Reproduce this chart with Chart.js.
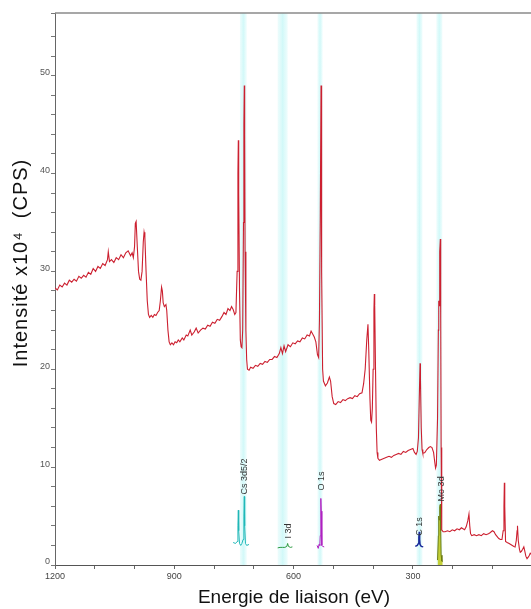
<!DOCTYPE html>
<html>
<head>
<meta charset="utf-8">
<script src="https://cdn.jsdelivr.net/npm/chart.js@4"></script>
<style>
html,body{margin:0;padding:0;background:#fff;}
#wrap{width:531px;height:609px;position:relative;}
</style>
</head>
<body>
<div id="wrap"><canvas id="c" width="531" height="609"></canvas></div>
<script>
// ---- Survey spectrum (red) ----
const energy = [1200,1194,1188,1182,1176,1170,1164,1158,1152,1146,1140,1134,1128,1122,1116,1110,1104,1098,1092,1086,1080,1074,1068,1066,1063,1058,1052,1046,1040,1034,1028,1022,1016,1010,1006,1003,1000,998,996,993,990,987,984,981,978,976,974,971,968,965,962,958,954,950,946,942,938,935,932,930,928,925,921,919,916,913,910,906,902,898,894,890,886,880,876,870,866,860,856,850,845,840,834,828,822,816,810,804,798,792,786,780,775,770,765,760,756,752,748,745,742,740,739,738,736,734,732,730,728,726,725,724,723,722,720,718,716,712,708,702,696,690,684,678,672,666,660,654,648,642,636,632,628,624,620,614,608,602,596,590,584,578,572,566,560,556,552,548,544,540,537,535,533,531,530,529,527,525,520,515,510,507,503,499,494,488,482,476,470,464,458,452,446,440,434,428,424,420,416,413,411,408,406,404,402,400,398,397,396,394,392,390,388,384,378,372,366,360,354,348,342,336,330,324,318,312,306,300,296,292,289,286,284,282,281,279,277,275,270,265,260,256,252,248,245,243,241,238,236,235,234,233,232,231,230,229,228,227,224,219,213,207,201,195,189,183,178,174,170,166,162,159,157,155,152,146,140,134,128,122,116,110,106,100,96,92,88,84,80,76,73,71,70,69,67,63,58,54,50,46,43,40,38,37,35,32,30,27,24,21,19,16,13,10,7,5,3];
const intensity = [28.3,28.1,28.6,28.4,28.8,28.6,29.1,28.9,29.2,29.0,29.5,29.3,29.6,29.4,29.9,29.7,30.3,30.0,30.5,30.3,30.8,30.6,31.2,32.0,31.0,31.2,30.9,31.4,31.2,31.7,31.4,31.9,32.1,31.6,31.9,31.4,32.5,34.9,35.1,32.5,30.0,29.2,29.1,30.0,33.0,34.0,33.5,30.0,27.0,25.6,25.3,25.5,25.3,25.6,25.5,25.8,26.0,27.0,28.4,28.0,26.8,26.4,26.6,26.0,24.0,22.8,22.5,22.7,22.5,22.8,22.7,23.0,22.8,23.2,23.0,23.5,23.4,24.0,23.5,23.8,24.2,23.7,24.0,24.2,24.1,24.5,24.4,24.8,24.7,25.1,25.0,25.4,25.8,25.6,26.2,26.0,26.4,26.1,25.6,25.8,30.0,40.0,43.4,38.0,28.0,23.0,22.3,22.2,24.0,35.0,45.0,49.0,44.0,32.0,24.0,21.0,20.0,19.9,20.2,20.1,20.4,20.3,20.6,20.5,20.8,20.7,21.0,21.0,21.3,21.2,21.6,22.2,21.6,22.4,21.8,22.5,22.3,22.7,22.6,22.9,22.8,23.2,23.1,23.5,23.4,23.9,23.6,23.3,22.8,21.5,21.2,25.0,35.0,49.0,47.0,30.0,20.0,18.8,18.3,18.6,19.2,18.8,17.2,16.5,16.4,16.7,16.6,16.9,16.8,17.0,17.1,17.0,17.3,17.2,17.5,17.6,18.5,20.0,23.0,24.6,22.0,17.0,14.8,14.6,16.0,20.0,26.0,27.7,26.5,20.0,14.0,11.5,10.9,10.7,10.8,10.9,11.0,11.1,11.0,11.2,11.3,11.4,11.3,11.6,11.5,11.7,11.8,11.9,11.5,11.3,11.6,13.0,17.0,20.6,19.0,14.0,11.8,11.4,11.5,11.8,12.0,12.1,12.0,11.5,10.5,9.9,10.2,15.0,24.0,27.0,26.5,28.0,32.0,33.3,25.0,12.0,6.0,3.6,3.4,3.4,3.5,3.4,3.6,3.5,3.7,3.6,3.8,3.7,3.6,3.9,4.5,5.2,4.0,3.2,3.0,3.1,3.0,3.1,3.0,3.2,3.1,3.2,3.3,3.5,3.4,3.1,2.9,2.7,2.6,2.6,3.5,6.0,8.4,6.0,2.4,2.3,2.2,2.1,2.0,1.9,1.85,2.5,3.5,4.0,2.5,1.6,1.3,1.4,1.6,1.85,1.5,0.9,0.65,0.8,1.0,1.2,1.1];

// ---- Fitted components ----
const csEnergy = [752,746,742,740,739,738,736,733,730,727,725,724,723,721,718,712];
const csIntensity = [2.3,2.2,2.4,4.0,5.6,3.5,2.2,2.0,2.2,2.6,5.0,7.0,4.0,2.2,2.0,2.1];
const iEnergy = [640,634,628,622,617,615,613,608,603];
const iIntensity = [1.75,1.8,1.8,1.8,1.9,2.2,1.9,1.8,1.85];
const oEnergy = [541,538,536,534,533,531.5,530.5,529,527,523];
const oIntensity = [2.0,1.7,2.1,2.0,3.0,6.8,5.5,2.0,1.9,1.85];
const cEnergy = [294,289,286,285,284,283,282,279,274];
const cIntensity = [1.9,2.0,2.2,2.8,3.4,2.6,2.1,1.9,1.85];
const moEnergy = [238,236,235,234,233,232,231,230,229,227,225];
const moIntensity = [0.5,3.0,5.0,4.6,5.2,6.0,6.2,3.5,1.0,0.4,0.3];

// ---- Component labels and highlight bands ----
const componentLabels = ['Cs 3d5/2','I 3d','O 1s','C 1s','Mo 3d'];
const labelEnergy = [724, 613, 530, 284, 228];
const labelBase = [7.2, 2.7, 7.6, 3.0, 6.5];
const bandCenter = [726.5, 627.5, 533.5, 283.5, 233.5];
const bandWidth = [17, 25, 13, 15, 15];

// ---- Axis ticks ----
const xTickValues = [1200, 1100, 1000, 900, 800, 700, 600, 500, 400, 300, 200, 100];
const xMajorTicks = [1200, 900, 600, 300];
const yMajorTicks = [0, 10, 20, 30, 40, 50];

function pts(xs, ys){ return xs.map((x,i)=>({x:x, y:ys[i]})); }

const bandsPlugin = {
  id:'bands',
  beforeDatasetsDraw(chart){
    const {ctx, chartArea:a, scales:{x}} = chart;
    ctx.save();
    bandCenter.forEach((c,i)=>{
      const p1 = x.getPixelForValue(c + bandWidth[i]/2);
      const p2 = x.getPixelForValue(c - bandWidth[i]/2);
      const l = Math.min(p1,p2), w = Math.abs(p2-p1);
      const g = ctx.createLinearGradient(l,0,l+w,0);
      g.addColorStop(0,'rgba(220,250,250,0.5)');
      g.addColorStop(0.5,'rgba(205,248,248,0.9)');
      g.addColorStop(1,'rgba(220,250,250,0.5)');
      ctx.fillStyle = g;
      ctx.fillRect(l, a.top, w, a.bottom - a.top);
    });
    ctx.restore();
  }
};

const decorPlugin = {
  id:'decor',
  afterDatasetsDraw(chart){
    const {ctx, scales:{x,y}} = chart;
    ctx.save();
    ctx.font = '9px "Liberation Sans", Arial, sans-serif';
    ctx.fillStyle = '#333';
    ctx.textAlign = 'left';
    ctx.textBaseline = 'middle';
    componentLabels.forEach((t,i)=>{
      const px = x.getPixelForValue(labelEnergy[i]);
      const py = y.getPixelForValue(labelBase[i]);
      ctx.save();
      ctx.translate(px, py);
      ctx.rotate(-Math.PI/2);
      ctx.fillText(t, 0, 0);
      ctx.restore();
    });
    ctx.restore();
  },
  afterDraw(chart){
    const {ctx, chartArea:a} = chart;
    ctx.save();
    ctx.strokeStyle = '#8a8a8a';
    ctx.lineWidth = 1.5;
    ctx.beginPath();
    ctx.moveTo(a.left, a.top);
    ctx.lineTo(a.right, a.top);
    ctx.stroke();
    ctx.fillStyle = '#111';
    ctx.font = '19px "Liberation Sans", Arial, sans-serif';
    ctx.textAlign = 'center';
    ctx.textBaseline = 'middle';
    ctx.fillText('Energie de liaison (eV)', (a.left + a.right)/2 + 1, 598);
    ctx.font = '20px "Liberation Sans", Arial, sans-serif';
    try { ctx.letterSpacing = '1px'; } catch(e) {}
    ctx.translate(21, 263);
    ctx.rotate(-Math.PI/2);
    ctx.fillText('Intensité x10⁴  (CPS)', 0, 0);
    ctx.restore();
  }
};

const lineDs = (data, color, extra) => Object.assign({
  data: data, borderColor: color, borderWidth: 1, pointRadius: 0,
  tension: 0, fill: false
}, extra || {});

new Chart(document.getElementById('c'), {
  type: 'line',
  data: {
    datasets: [
      lineDs(pts(energy, intensity), '#cc2030', {borderWidth: 1.1}),
      lineDs(pts(csEnergy, csIntensity), '#20b8b8'),
      lineDs(pts(iEnergy, iIntensity), '#2a9a40'),
      lineDs(pts(oEnergy, oIntensity), '#b020c0'),
      lineDs(pts(cEnergy, cIntensity), '#1a2a9a', {borderWidth: 1.5}),
      lineDs(pts(moEnergy, moIntensity), '#6b7a10', {fill: 'origin', backgroundColor: 'rgba(190,200,20,0.85)'})
    ]
  },
  options: {
    responsive: false,
    animation: false,
    devicePixelRatio: 1,
    layout: { padding: { top: 13, right: 0, left: 0, bottom: 0 } },
    plugins: { legend: { display: false }, tooltip: { enabled: false } },
    scales: {
      x: {
        type: 'linear', reverse: true, min: 3, max: 1200,
        afterFit: s => { s.height = 44; },
        afterBuildTicks: s => { s.ticks = xTickValues.map(v => ({ value: v })); },
        border: { display: true, color: '#555', width: 1 },
        grid: { drawOnChartArea: false, drawTicks: true, tickLength: 4, color: '#666' },
        ticks: {
          autoSkip: false, maxRotation: 0, padding: 2,
          color: '#444', font: { size: 9, family: '"Liberation Sans", Arial, sans-serif' },
          callback: v => xMajorTicks.includes(v) ? String(v) : ''
        }
      },
      y: {
        type: 'linear', min: 0, max: 56.4,
        afterFit: s => { s.width = 55; },
        border: { display: true, color: '#666', width: 1 },
        grid: { drawOnChartArea: false, drawTicks: true, tickLength: 4, color: '#777' },
        ticks: {
          stepSize: 2, autoSkip: false, padding: 1, labelOffset: -3,
          color: '#555', font: { size: 9, family: '"Liberation Sans", Arial, sans-serif' },
          callback: v => yMajorTicks.includes(v) ? String(v) : ''
        }
      }
    }
  },
  plugins: [bandsPlugin, decorPlugin]
});
</script>
</body>
</html>
